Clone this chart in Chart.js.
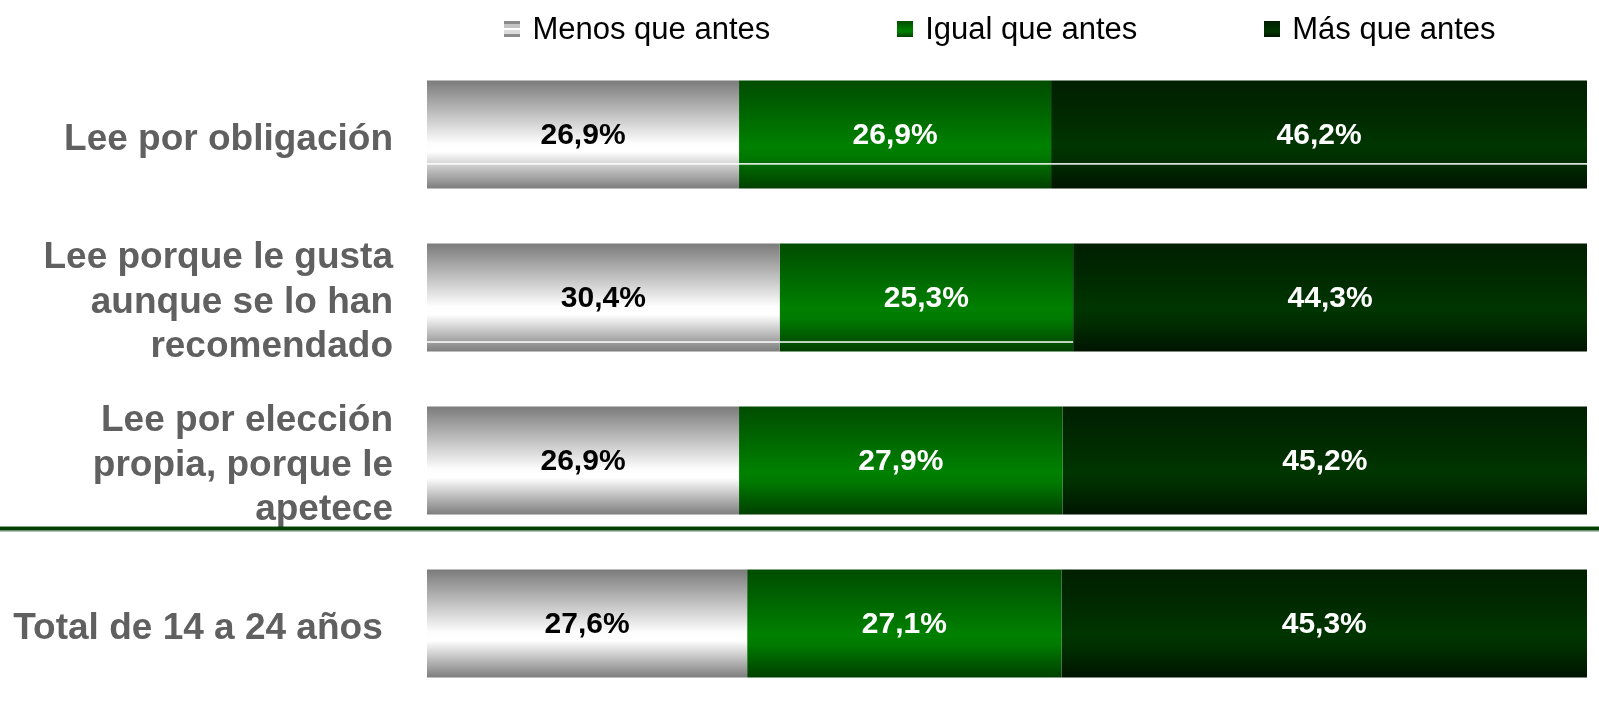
<!DOCTYPE html>
<html>
<head>
<meta charset="utf-8">
<script src="https://cdn.jsdelivr.net/npm/chart.js@4.4.0/dist/chart.umd.min.js"></script>
<style>
  html, body { margin: 0; padding: 0; background: #fff; }
  #wrap { width: 1599px; height: 713px; position: relative; }
</style>
</head>
<body>
<div id="wrap"><canvas id="myChart"></canvas></div>
<script>
var categories = [
    'Lee por obligación',
    ['Lee porque le gusta', 'aunque se lo han', 'recomendado'],
    ['Lee por elección', 'propia, porque le', 'apetece'],
    'Total de 14 a 24 años '
];
var seriesNames = ['Menos que antes', 'Igual que antes', 'Más que antes'];
var menos = [26.9, 30.4, 26.9, 27.6];
var igual = [26.9, 25.3, 27.9, 27.1];
var mas   = [46.2, 44.3, 45.2, 45.3];

var FONT = "'Liberation Sans', Arial, sans-serif";
var BAR_PCT = 0.663;

// vertical gradients of each series (top -> bottom)
var stops = [
    [[0, '#7b7b7b'], [0.3, '#bebebe'], [0.58, '#fdfdfd'], [0.66, '#ffffff'], [0.8, '#c9c9c9'], [1, '#7d7d7d']],
    [[0, '#004c00'], [0.3, '#006600'], [0.6, '#008000'], [0.7, '#007a00'], [1, '#003f00']],
    [[0, '#001f00'], [0.3, '#002900'], [0.6, '#003500'], [0.75, '#002d00'], [1, '#001400']]
];
var labelColors = ['#000000', '#ffffff', '#ffffff'];

function barFill(ds) {
    return function (c) {
        var chart = c.chart;
        if (!chart.chartArea || c.type !== 'data') return stops[ds][2][1];
        var ys = chart.scales.y;
        var mid = ys.getPixelForValue(c.dataIndex);
        var h = ys.height / categories.length * BAR_PCT;
        var g = chart.ctx.createLinearGradient(0, mid - h / 2, 0, mid + h / 2);
        stops[ds].forEach(function (s) { g.addColorStop(s[0], s[1]); });
        return g;
    };
}

function markerCanvas(ds) {
    var cv = document.createElement('canvas');
    cv.width = 16; cv.height = 16;
    var cx = cv.getContext('2d');
    if (ds === 0) {
        var bands = ['#8a8a8a', '#c4c4c4', '#ffffff', '#dcdcdc', '#8c8c8c'];
        var hs = [3, 4, 2, 4, 3];
        var y = 0;
        for (var i = 0; i < bands.length; i++) {
            cx.fillStyle = bands[i];
            cx.fillRect(0, y, 16, hs[i]);
            y += hs[i];
        }
    } else {
        var g = cx.createLinearGradient(0, 0, 0, 16);
        stops[ds].forEach(function (s) { g.addColorStop(s[0], s[1]); });
        cx.fillStyle = g;
        cx.fillRect(0, 0, 16, 16);
    }
    return cv;
}
var markers = [markerCanvas(0), markerCanvas(1), markerCanvas(2)];

var extras = {
    id: 'extras',
    afterDatasetsDraw: function (chart) {
        var ctx = chart.ctx;
        ctx.save();
        // thin white streaks seen across the first two bars of the original
        ctx.fillStyle = '#ffffff';
        chart.data.datasets.forEach(function (d, i) {
            var meta = chart.getDatasetMeta(i);
            meta.data.forEach(function (el, j) {
                var top = el.y - el.height / 2;
                var f = null;
                if (j === 0) f = 0.765;
                if (j === 1 && i < 2) f = 0.905;
                if (f === null) return;
                ctx.fillRect(Math.min(el.base, el.x), top + el.height * f, Math.abs(el.x - el.base), 1.5);
            });
        });
        // value labels
        ctx.font = 'bold 30px ' + FONT;
        ctx.textAlign = 'center';
        ctx.textBaseline = 'middle';
        chart.data.datasets.forEach(function (d, i) {
            var meta = chart.getDatasetMeta(i);
            ctx.fillStyle = labelColors[i];
            meta.data.forEach(function (el, j) {
                var txt = d.data[j].toFixed(1).replace('.', ',') + '%';
                ctx.fillText(txt, (el.x + el.base) / 2, el.y + 1);
            });
        });
        ctx.restore();
    },
    afterDraw: function (chart) {
        var ctx = chart.ctx;
        ctx.save();
        // separator between the groups and the total
        var el = chart.getDatasetMeta(0).data[2];
        var y = el.y + el.height / 2 + 12;
        ctx.fillStyle = '#003f00';
        ctx.fillRect(0, y, chart.width, 4);
        ctx.fillStyle = '#6f8f6f';
        ctx.fillRect(0, y + 4, chart.width, 1);
        // legend
        ctx.font = '31px ' + FONT;
        ctx.textBaseline = 'middle';
        ctx.textAlign = 'left';
        var gap = 127;
        var widths = seriesNames.map(function (n) { return 16 + 12 + ctx.measureText(n).width; });
        var total = widths.reduce(function (a, b) { return a + b; }, 0) + gap * (widths.length - 1);
        var x = 1000 - total / 2;
        seriesNames.forEach(function (n, i) {
            ctx.drawImage(markers[i], x, 21);
            ctx.fillStyle = '#000000';
            ctx.fillText(n, x + 28, 30);
            x += widths[i] + gap;
        });
        ctx.restore();
    }
};

var datasets = [menos, igual, mas].map(function (vals, i) {
    return {
        label: seriesNames[i],
        data: vals,
        backgroundColor: barFill(i),
        borderWidth: 0,
        barPercentage: BAR_PCT,
        categoryPercentage: 1
    };
});

var ctx = document.getElementById('myChart').getContext('2d');
var myChart = new Chart(ctx, {
    type: 'bar',
    data: { labels: categories, datasets: datasets },
    plugins: [extras],
    options: {
        indexAxis: 'y',
        responsive: true,
        maintainAspectRatio: false,
        animation: false,
        layout: { padding: { top: 53, bottom: 8, left: 0, right: 12 } },
        plugins: {
            legend: { display: false },
            tooltip: { enabled: false }
        },
        scales: {
            x: { stacked: true, min: 0, max: 100, display: false },
            y: {
                stacked: true,
                grid: { display: false, drawTicks: false },
                border: { display: false },
                ticks: {
                    autoSkip: false,
                    padding: 34,
                    labelOffset: 5,
                    color: '#606060',
                    font: { family: FONT, size: 37, weight: 'bold', lineHeight: 1.2 }
                },
                afterFit: function (scale) {
                    scale.width = 427;
                    scale.paddingTop = 0;
                    scale.paddingBottom = 0;
                }
            }
        }
    }
});
</script>
</body>
</html>
